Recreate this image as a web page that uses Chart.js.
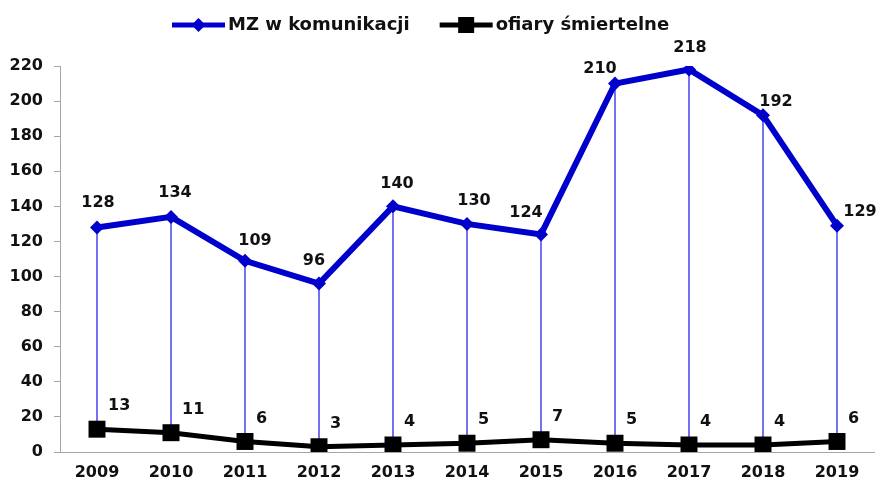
<!DOCTYPE html>
<html>
<head>
<meta charset="utf-8">
<script src="https://cdn.jsdelivr.net/npm/chart.js@4.4.0/dist/chart.umd.min.js"></script>
<style>
  html, body { margin: 0; padding: 0; background: #fff; }
  #wrap { width: 886px; height: 481px; position: relative; }
</style>
</head>
<body>
<div id="wrap"><canvas id="chart"></canvas></div>
<script>
const years = ['2009', '2010', '2011', '2012', '2013', '2014', '2015', '2016', '2017', '2018', '2019'];
const mzValues = [128, 134, 109, 96, 140, 130, 124, 210, 218, 192, 129];
const deathValues = [13, 11, 6, 3, 4, 5, 7, 5, 4, 4, 6];
const seriesNames = ['MZ w komunikacji', 'ofiary śmiertelne'];

const BLUE = '#0000cc';
const BLACK = '#000000';
const FONT = "'DejaVu Sans', Verdana, sans-serif";

// label nudges (px) for the blue series
const mzLabelShift = [[1, -25], [4, -24], [10, -20], [-5, -23], [4, -23], [7, -23], [-15, -22], [-15, -15], [1, -22], [13, -13], [23, -14]];

// thin blue drop lines between the two series (Excel high-low lines)
const highLowLines = {
    id: 'highLowLines',
    beforeDatasetsDraw(chart) {
        const ctx = chart.ctx;
        const top = chart.getDatasetMeta(0).data;
        const bottom = chart.getDatasetMeta(1).data;
        ctx.save();
        ctx.strokeStyle = 'rgb(40, 40, 235)';
        ctx.lineWidth = 1.3;
        top.forEach((pt, i) => {
            ctx.beginPath();
            ctx.moveTo(pt.x, pt.y);
            ctx.lineTo(pt.x, bottom[i].y);
            ctx.stroke();
        });
        ctx.restore();
    }
};

const valueLabels = {
    id: 'valueLabels',
    afterDatasetsDraw(chart) {
        const ctx = chart.ctx;
        ctx.save();
        ctx.fillStyle = '#111';
        ctx.font = 'bold 16px ' + FONT;
        ctx.textBaseline = 'middle';

        ctx.textAlign = 'center';
        chart.getDatasetMeta(0).data.forEach((pt, i) => {
            const s = mzLabelShift[i];
            ctx.fillText(String(mzValues[i]), pt.x + s[0], pt.y + s[1]);
        });

        ctx.textAlign = 'left';
        chart.getDatasetMeta(1).data.forEach((pt, i) => {
            ctx.fillText(String(deathValues[i]), pt.x + 11, pt.y - 23);
        });
        ctx.restore();
    }
};

// legend: line with marker in the middle, then the name
const lineLegend = {
    id: 'lineLegend',
    afterDraw(chart) {
        const ctx = chart.ctx;
        const cy = 25;
        const lineLen = 53;
        let x = 172;
        ctx.save();
        ctx.font = 'bold 18px ' + FONT;
        ctx.textBaseline = 'middle';
        ctx.textAlign = 'left';
        chart.data.datasets.forEach((ds, i) => {
            ctx.strokeStyle = ds.borderColor;
            ctx.lineWidth = 5;
            ctx.beginPath();
            ctx.moveTo(x, cy);
            ctx.lineTo(x + lineLen, cy);
            ctx.stroke();
            ctx.fillStyle = ds.borderColor;
            const mx = x + lineLen / 2;
            ctx.beginPath();
            if (i === 0) {
                ctx.moveTo(mx - 7, cy);
                ctx.lineTo(mx, cy - 7);
                ctx.lineTo(mx + 7, cy);
                ctx.lineTo(mx, cy + 7);
                ctx.closePath();
            } else {
                ctx.rect(mx - 8, cy - 8, 16, 16);
            }
            ctx.fill();
            ctx.fillStyle = '#111';
            const tx = x + lineLen + 3;
            ctx.fillText(ds.label, tx, cy);
            x = tx + ctx.measureText(ds.label).width + 30;
        });
        ctx.restore();
    }
};

new Chart(document.getElementById('chart').getContext('2d'), {
    type: 'line',
    data: {
        labels: years,
        datasets: [{
            label: seriesNames[0],
            data: mzValues,
            borderColor: BLUE,
            backgroundColor: BLUE,
            borderWidth: 6,
            pointStyle: 'rectRot',
            pointRadius: 7,
            pointHoverRadius: 7,
            pointBorderWidth: 0,
            tension: 0,
            fill: false
        }, {
            label: seriesNames[1],
            data: deathValues,
            borderColor: BLACK,
            backgroundColor: BLACK,
            borderWidth: 5,
            pointStyle: 'rect',
            pointRadius: 12,
            pointHoverRadius: 12,
            pointBorderWidth: 0,
            tension: 0,
            fill: false
        }]
    },
    options: {
        responsive: true,
        maintainAspectRatio: false,
        animation: false,
        layout: { padding: { top: 66, right: 3, left: 0, bottom: 0 } },
        plugins: {
            legend: { display: false },
            tooltip: { enabled: false }
        },
        scales: {
            x: {
                offset: true,
                grid: { display: false, drawTicks: false },
                border: { display: true, color: '#a6a6a6', width: 1 },
                ticks: {
                    color: '#111',
                    padding: 11,
                    font: { family: FONT, size: 16, weight: 'bold' },
                    maxRotation: 0
                },
                afterFit: (scale) => { scale.height = 29; }
            },
            y: {
                min: 0,
                max: 220,
                grid: { drawOnChartArea: false, drawTicks: true, tickLength: 6, tickColor: '#a6a6a6' },
                border: { display: true, color: '#a6a6a6', width: 1 },
                ticks: {
                    stepSize: 20,
                    color: '#111',
                    padding: 11,
                    font: { family: FONT, size: 16, weight: 'bold' }
                },
                afterFit: (scale) => { scale.width = 60; }
            }
        }
    },
    plugins: [highLowLines, valueLabels, lineLegend]
});
</script>
</body>
</html>
